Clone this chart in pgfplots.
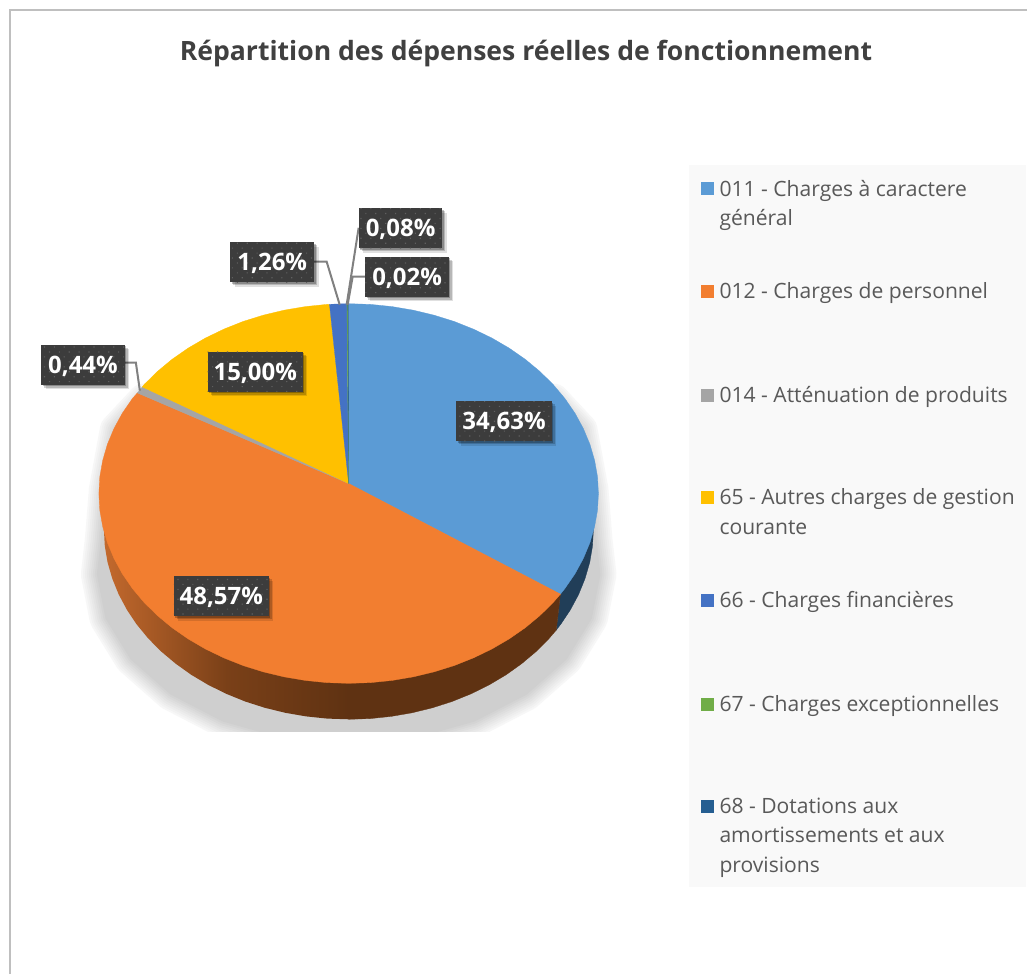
\documentclass[border=0pt]{standalone}
\usepackage{fontspec}
\setmainfont{Open Sans}
\usepackage{pgfplots}
\usepackage{pgfplotstable}
\pgfplotsset{compat=1.18}
\usetikzlibrary{patterns.meta,shadows}
\definecolor{cA}{RGB}{91,155,213}
\definecolor{cB}{RGB}{242,126,48}
\definecolor{cC}{RGB}{165,165,165}
\definecolor{cD}{RGB}{255,192,0}
\definecolor{cE}{RGB}{68,114,196}
\definecolor{cF}{RGB}{112,173,71}
\definecolor{cG}{RGB}{37,94,145}
\definecolor{wallB}{RGB}{95,50,18}
\definecolor{wallA}{RGB}{33,62,88}
\definecolor{wallL}{RGB}{195,105,45}
\definecolor{wallM}{RGB}{122,64,24}
\definecolor{boxc}{RGB}{60,60,60}
\definecolor{boxd}{RGB}{95,95,95}
\definecolor{txt}{RGB}{89,89,89}
\definecolor{leader}{RGB}{128,128,128}
\pgfplotstableread{
x y
601 575
592.4 619
567.2 660
527.2 695.2
475 722.2
414.2 739.2
349 745
283.8 739.2
223 722.2
170.8 695.2
130.8 660
105.6 619
97 575
101 540
105 490
116 430
144 400
554 400
582 430
593 490
597 540
}\shadowshape
\pgfplotstableread{
x y lab
504.5 421.5 34,63
221.5 597 48,57
255.5 372 15,00
}\labelsbig
\pgfplotstableread{
x y lab
83 365 0,44
272.5 262.5 1,26
401 228.5 0,08
407.5 277 0,02
}\labelssmall
\tikzset{lab/.style={anchor=center,text=white,font=\fontsize{24}{28}\selectfont\bfseries,
  inner xsep=6pt,inner ysep=11.5pt,text height=17pt,text depth=0pt,
  drop shadow={shadow xshift=4.5pt,shadow yshift=-4.5pt,opacity=.12,fill=black},
  drop shadow={shadow xshift=3pt,shadow yshift=-3pt,opacity=.18,fill=black},
  drop shadow={shadow xshift=1.5pt,shadow yshift=-1.5pt,opacity=.25,fill=black},
  preaction={fill=boxc},pattern={Dots[radius=.8pt,distance=7pt,angle=45]},pattern color=boxd}}
\newcommand{\legtxt}[2]{\node[anchor=base west,text=txt,inner sep=0pt,font=\fontsize{21.1}{25}\selectfont] at (axis cs:720,#1) {#2};}
\begin{document}
\begin{tikzpicture}
\begin{axis}[width=1028pt,height=975pt,scale only axis,hide axis,
  xmin=0,xmax=1028,ymin=0,ymax=975,y dir=reverse,clip=false,enlargelimits=false]
% page and frame
\addplot[fill=white,draw=none] coordinates {(0,0)(1028,0)(1028,975)(0,975)} --cycle;
\addplot[draw={rgb,255:red,191;green,191;blue,191},line width=2pt] coordinates {(10,975)(10,10.5)(1028,10.5)};
% legend panel
\addplot[fill={rgb,255:red,249;green,249;blue,249},draw=none] coordinates {(689.5,165)(1026.5,165)(1026.5,888)(689.5,888)} --cycle;
% soft shadow
\addplot[draw=black!3,fill=black!3,line width=32pt,line join=round] table {\shadowshape} --cycle;
\addplot[draw=black!5,fill=black!5,line width=28pt,line join=round] table {\shadowshape} --cycle;
\addplot[draw=black!7,fill=black!7,line width=24pt,line join=round] table {\shadowshape} --cycle;
\addplot[draw=black!9,fill=black!9,line width=20pt,line join=round] table {\shadowshape} --cycle;
\addplot[draw=black!11,fill=black!11,line width=16pt,line join=round] table {\shadowshape} --cycle;
\addplot[draw=black!13,fill=black!13,line width=12pt,line join=round] table {\shadowshape} --cycle;
\addplot[draw=black!15,fill=black!15,line width=8pt,line join=round] table {\shadowshape} --cycle;
\addplot[draw=black!17,fill=black!17,line width=4pt,line join=round] table {\shadowshape} --cycle;
\addplot[draw=none,fill=black!19] table {\shadowshape} --cycle;
% cut the shadow
\addplot[fill=white,draw=none] coordinates {(60,733)(640,733)(640,775)(60,775)} --cycle;
% side walls
\addplot[fill=wallA,draw=wallA,line width=.3pt] coordinates {(580,500)(594,530)(593.1,546.6)(590.3,563)(585.6,579.2)(579.2,595)(571,610.3)(561.2,625)(556.8,630.7)(561,594.7)(500,500)} --cycle;
\addplot[fill=wallB,draw=wallB,line width=.3pt] coordinates {(561,594.7)(556.8,630.7)(549.7,639)(536.7,652.1)(522.2,664.3)(506.5,675.5)(489.5,685.6)(471.5,694.5)(452.5,702.2)(432.8,708.5)(412.4,713.5)(391.5,717.1)(370.4,719.3)(349,720)(349,500)} --cycle;
\addplot[draw=none,left color=wallL,right color=wallB,middle color=wallM] coordinates {(349.5,720)(327.6,719.3)(306.5,717.1)(285.6,713.5)(265.2,708.5)(245.5,702.2)(226.5,694.5)(208.5,685.6)(191.5,675.5)(175.8,664.3)(161.3,652.1)(148.3,639)(136.8,625)(127,610.3)(118.8,595)(112.4,579.2)(107.7,563)(104.9,546.6)(104,530)(110,500)(349.5,500)} --cycle;
% top faces
\addplot[fill=cA,draw=cA,line width=.3pt] coordinates {(349,484)(349,304)(370.8,304.7)(392.4,306.9)(413.7,310.5)(434.5,315.5)(454.7,321.8)(474,329.5)(492.4,338.4)(509.7,348.5)(525.8,359.7)(540.5,371.9)(553.8,385)(565.5,399)(575.6,413.7)(583.9,429)(590.5,444.8)(595.2,461)(598.1,477.4)(599,494)(598.1,510.6)(595.2,527)(590.5,543.2)(583.9,559)(575.6,574.3)(565.5,589)(561,594.7)} --cycle;
\addplot[fill=cB,draw=cB,line width=.3pt] coordinates {(349,484)(561,594.7)(553.8,603)(540.5,616.1)(525.8,628.3)(509.7,639.5)(492.4,649.6)(474,658.5)(454.7,666.2)(434.5,672.5)(413.7,677.5)(392.4,681.1)(370.8,683.3)(349,684)(327.2,683.3)(305.6,681.1)(284.3,677.5)(263.5,672.5)(243.3,666.2)(224,658.5)(205.6,649.6)(188.3,639.5)(172.2,628.3)(157.5,616.1)(144.2,603)(132.5,589)(122.4,574.3)(114.1,559)(107.5,543.2)(102.8,527)(99.9,510.6)(99,494)(99.9,477.4)(102.8,461)(107.5,444.8)(114.1,429)(122.4,413.7)(132.5,399)(137.5,393.3)} --cycle;
\addplot[fill=cC,draw=cC,line width=.3pt] coordinates {(349,484)(137.5,393.3)(142.5,387.3)} --cycle;
\addplot[fill=cD,draw=cD,line width=.3pt] coordinates {(349,484)(142.5,387.3)(144.2,385)(157.5,371.9)(172.2,359.7)(188.3,348.5)(205.6,338.4)(224,329.5)(243.3,321.8)(263.5,315.5)(284.3,310.5)(305.6,306.9)(327.2,304.7)(329.8,304.6)} --cycle;
\addplot[fill=cE,draw=cE,line width=.3pt] coordinates {(349,484)(329.8,304.6)(347.3,304)} --cycle;
\addplot[fill=cF,draw=cF,line width=.3pt] coordinates {(349,484)(347.3,304)(348.1,304)} --cycle;
\addplot[fill=cG,draw=cG,line width=.1pt] coordinates {(349,484)(348.1,304)(349,304)} --cycle;
% leader lines
\addplot[draw=leader,line width=2pt] coordinates {(125,363)(136,363)(140,391)};
\addplot[draw=leader,line width=2pt] coordinates {(314,262)(327,262)(340,305)};
\addplot[draw=leader,line width=2pt] coordinates {(359,228)(347,305)};
\addplot[draw=leader,line width=2pt] coordinates {(366,277)(353,277)(348,305)};
% data labels
\addplot[draw=none,mark=none,point meta=explicit symbolic,
  nodes near coords={\pgfplotspointmeta\%},
  every node near coord/.append style={lab}] table[meta=lab] {\labelsbig};
\addplot[draw=none,mark=none,point meta=explicit symbolic,
  nodes near coords={\pgfplotspointmeta\%},
  every node near coord/.append style={lab,inner xsep=7pt}] table[meta=lab] {\labelssmall};
% legend keys
\addplot[only marks,color=cA,mark=square*,mark size=6pt,mark options={draw=cA,fill=cA,line width=.1pt}] coordinates {(708,188.5)};
\addplot[only marks,color=cB,mark=square*,mark size=6pt,mark options={draw=cB,fill=cB,line width=.1pt}] coordinates {(708,291.5)};
\addplot[only marks,color=cC,mark=square*,mark size=6pt,mark options={draw=cC,fill=cC,line width=.1pt}] coordinates {(708,395)};
\addplot[only marks,color=cD,mark=square*,mark size=6pt,mark options={draw=cD,fill=cD,line width=.1pt}] coordinates {(708,497.5)};
\addplot[only marks,color=cE,mark=square*,mark size=6pt,mark options={draw=cE,fill=cE,line width=.1pt}] coordinates {(708,600.5)};
\addplot[only marks,color=cF,mark=square*,mark size=6pt,mark options={draw=cF,fill=cF,line width=.1pt}] coordinates {(708,704.5)};
\addplot[only marks,color=cG,mark=square*,mark size=6pt,mark options={draw=cG,fill=cG,line width=.1pt}] coordinates {(708,807)};
\legtxt{196.5}{011 - Charges à caractere}
\legtxt{226}{général}
\legtxt{299}{012 - Charges de personnel}
\legtxt{402.5}{014 - Atténuation de produits}
\legtxt{505}{65 - Autres charges de gestion}
\legtxt{535}{courante}
\legtxt{608}{66 - Charges financières}
\legtxt{712.5}{67 - Charges exceptionnelles}
\legtxt{814}{68 - Dotations aux}
\legtxt{843.5}{amortissements et aux}
\legtxt{873.5}{provisions}
% title
\node[anchor=base,inner sep=0pt,text={rgb,255:red,64;green,64;blue,64},font=\fontsize{26.6}{32}\selectfont\bfseries] at (axis cs:526.5,61) {Répartition des dépenses réelles de fonctionnement};
\end{axis}
\end{tikzpicture}
\end{document}
